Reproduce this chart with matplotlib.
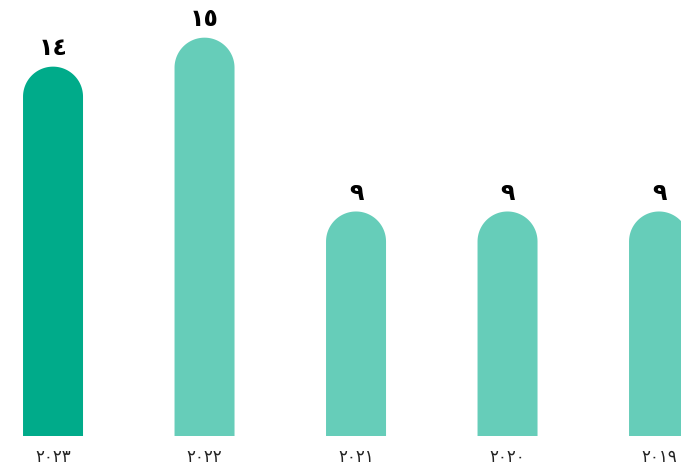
import numpy as np
import matplotlib.pyplot as plt
from matplotlib.patches import Polygon

years = ['٢٠٢٣', '٢٠٢٢', '٢٠٢١', '٢٠٢٠', '٢٠١٩']
values = [14, 15, 9, 9, 9]
labels = ['١٤', '١٥', '٩', '٩', '٩']
colors = ['#00ab8a', '#66cdb9', '#66cdb9', '#66cdb9', '#66cdb9']

W, H = 681, 471
fig = plt.figure(figsize=(W / 100, H / 100), dpi=100)
ax = fig.add_axes([0, 35 / H, 1, 1 - 35 / H])

ymin, ymax = 1.25, 16.3
xmin, xmax = -0.35, 4.145
ax.set_xlim(xmin, xmax)
ax.set_ylim(ymin, ymax)

bar_w = 0.396
# cap radius in y data units so the cap stays round on screen
px_x = W / (xmax - xmin)
px_y = (H - 35) / (ymax - ymin)
r_x = bar_w / 2
r_y = r_x * px_x / px_y
t = np.linspace(0, np.pi, 60)

for i, (v, c) in enumerate(zip(values, colors)):
    cy = v - r_y
    xs = np.concatenate([[i + r_x], i + r_x * np.cos(t), [i - r_x]])
    ys = np.concatenate([[ymin], cy + r_y * np.sin(t), [ymin]])
    ax.add_patch(Polygon(np.column_stack([xs, ys]), closed=True,
                         facecolor=c, edgecolor='none'))
    ax.text(i, v + 0.64, labels[i], ha='center', va='center',
            fontsize=17, fontweight='bold', color='black',
            family=['DejaVu Sans'])

ax.set_xticks(range(len(years)))
ax.set_xticklabels(years, fontsize=12, color='#222222', family=['DejaVu Sans'])
ax.tick_params(axis='x', length=0, pad=9)
ax.set_yticks([])
for s in ax.spines.values():
    s.set_visible(False)

fig.savefig('out.png', dpi=100)
